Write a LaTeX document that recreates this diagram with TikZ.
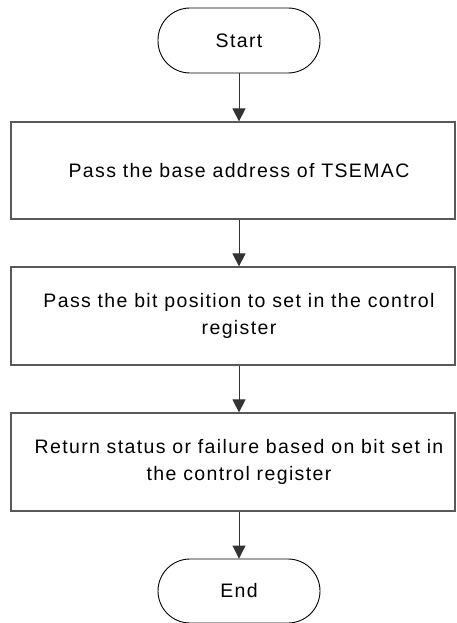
\documentclass[tikz,border=0pt]{standalone}
\usepackage{fontspec}
\setmainfont{Liberation Sans}[LetterSpace=7]
\usetikzlibrary{arrows.meta}
\tikzset{
  terminal/.style={draw=black, line width=0.9pt, rounded corners=32pt,
    minimum width=162pt, inner sep=0pt},
  procbox/.style={draw=black!65, line width=1.2pt, minimum width=444pt, inner sep=0pt},
  boxtext/.style={align=center, inner sep=0pt},
  flow/.style={draw=black!80, line width=0.9pt, -{Triangle[length=13pt,width=13pt]}},
}
\begin{document}
\begin{tikzpicture}[x=1pt, y=-1pt,
  every node/.append style={font=\fontsize{19.5}{27}\selectfont}]
  \useasboundingbox (0,0) rectangle (456,623);

  % terminals
  \node[terminal, minimum height=65pt] (start) at (239,40.5) {Start};
  \node[terminal, minimum height=64pt] (stop) at (239,591) {End};

  % process boxes
  \node[procbox, minimum height=97pt] (b1) at (233,170.5) {};
  \node[procbox, minimum height=98pt] (b2) at (233,316) {};
  \node[procbox, minimum height=98pt] (b3) at (233,462) {};

  \node[boxtext] (t1) at (239,170.5) {Pass the base address of TSEMAC};
  \node[boxtext] (t2) at (239,316) {Pass the bit position to set in the control\\register};
  \node[boxtext] (t3) at (239,462) {Return status or failure based on bit set in\\the control register};

  % connectors
  \draw[flow] (start.south) -- (start |- b1.north);
  \draw[flow] (start |- b1.south) -- (start |- b2.north);
  \draw[flow] (start |- b2.south) -- (start |- b3.north);
  \draw[flow] (start |- b3.south) -- (stop.north);
\end{tikzpicture}
\end{document}
